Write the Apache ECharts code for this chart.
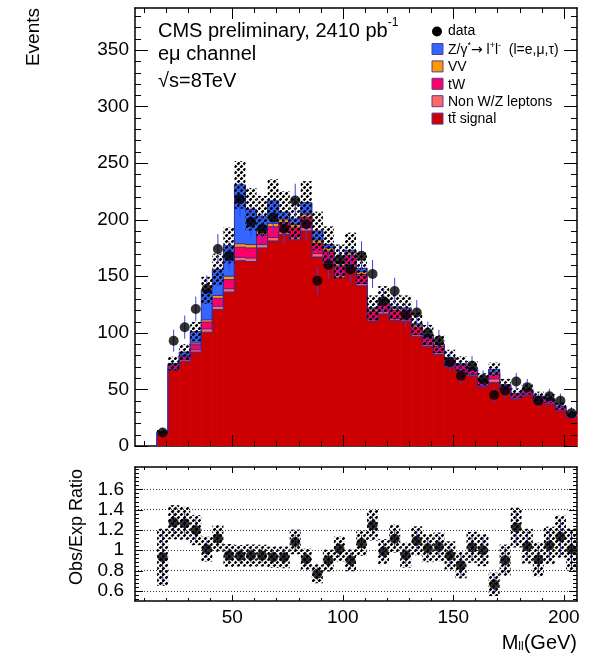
<!DOCTYPE html>
<html>
<head>
<meta charset="utf-8">
<script src="https://cdn.jsdelivr.net/npm/echarts@6/dist/echarts.min.js"></script>
<style>
  html, body { margin: 0; padding: 0; background: #fff; }
  #chart { width: 591px; height: 653px; }
</style>
</head>
<body>
<div id="chart"></div>
<script>
// Dilepton invariant mass, e-mu channel: stacked expectation, data and obs/exp ratio.
const binCenters = [18.5, 23.5, 28.5, 33.5, 38.5, 43.5, 48.5, 53.5, 58.5, 63.5,
  68.5, 73.5, 78.5, 83.5, 88.5, 93.5, 98.5, 103.5, 108.5, 113.5,
  118.5, 123.5, 128.5, 133.5, 138.5, 143.5, 148.5, 153.5, 158.5, 163.5,
  168.5, 173.5, 178.5, 183.5, 188.5, 193.5, 198.5, 203.5];
const BIN_W = 5;

const dataCounts = [12, 93, 105, 121, 139, 174, 168, 218, 198, 192,
  202, 192, 217, 196, 146, 160, 165, 156, 168, 152,
  128, 137, 116, 118, 100, 93, 74, 62, 71, 59,
  45, 49, 57, 52, 40, 44, 40, 29];

const ttSignal = [11.4, 67.6, 74.5, 83.0, 100.5, 120.5, 136.0, 163.7, 163.0, 175.0,
  181.2, 187.0, 182.2, 190.0, 167.0, 160.5, 148.5, 157.5, 141.5, 110.5,
  116.7, 111.0, 110.5, 97.0, 88.0, 81.0, 70.0, 65.7, 62.0, 52.5,
  56.2, 48.3, 41.5, 44.9, 39.1, 37.1, 31.1, 25.4];
const nonWZ = [0.4, 1.2, 1.5, 2.0, 3.0, 3.0, 3.0, 3.0, 3.0, 3.0,
  3.0, 2.5, 2.5, 3.0, 3.0, 2.5, 2.5, 2.5, 2.0, 1.5,
  2.0, 1.5, 1.5, 1.5, 1.5, 1.5, 1.0, 1.0, 1.0, 1.0,
  3.0, 1.0, 0.8, 0.8, 0.8, 0.8, 0.7, 0.6];
const singleTopTW = [0.6, 2.5, 3.0, 4.5, 6.0, 7.0, 8.0, 9.0, 9.0, 9.0,
  9.5, 8.0, 8.0, 9.0, 9.0, 9.0, 8.0, 8.5, 8.0, 7.0,
  7.5, 7.0, 7.0, 6.5, 6.0, 5.5, 5.0, 4.5, 4.5, 4.0,
  4.0, 3.5, 3.0, 3.0, 3.0, 3.0, 2.5, 2.0];
const diboson = [0.2, 0.8, 1.0, 1.5, 2.0, 2.5, 3.0, 3.0, 3.0, 3.0,
  3.0, 3.0, 3.0, 3.0, 3.0, 3.0, 2.5, 2.5, 2.5, 2.0,
  2.0, 2.0, 2.0, 2.0, 1.5, 1.5, 1.5, 1.0, 1.0, 1.0,
  1.5, 1.0, 1.0, 1.0, 0.8, 0.8, 0.7, 0.6];
const drellYan = [0.3, 0.8, 3.0, 10.0, 26.0, 23.0, 27.0, 52.0, 31.0, 13.0,
  20.0, 6.0, 5.0, 10.0, 8.0, 3.0, 1.5, 2.0, 3.0, 1.0,
  1.5, 1.5, 1.0, 1.0, 1.0, 0.5, 0.5, 0.5, 0.5, 0.5,
  3.0, 0.5, 0.3, 0.3, 0.3, 0.3, 0.3, 0.2];
// absolute uncertainty on the total expectation
const expUnc = [1.2, 6.0, 7.0, 8.5, 12.0, 14.0, 16.0, 21.0, 19.0, 18.0,
  19.0, 18.5, 18.0, 19.0, 17.0, 16.0, 15.0, 15.5, 14.0, 11.0,
  11.5, 11.0, 11.0, 10.0, 9.0, 8.0, 7.0, 6.5, 6.2, 5.3,
  6.0, 5.0, 4.2, 4.5, 4.0, 3.8, 3.2, 2.6];

const xTicks = [50, 100, 150, 200];
const yTicks = [0, 50, 100, 150, 200, 250, 300, 350];
const ratioTicks = [0.6, 0.8, 1, 1.2, 1.4, 1.6];

const X_MIN = 6, X_MAX = 206, Y_MAX = 387, R_MIN = 0.5, R_MAX = 1.82;
const FONT = "'Liberation Sans', Arial, Helvetica, sans-serif";
const OUTLINE = '#3a2a9a';
const ERR_BLUE = '#3f3fd8';

function steps(from, to, step) {
  const out = [];
  for (let v = from; v <= to + 1e-9; v += step) out.push(Math.round(v * 1000) / 1000);
  return out;
}
const xMinor = steps(10, 200, 10);
const yMinor = steps(10, 380, 10);
const ratioMinor = steps(0.52, 1.8, 0.04);

// stacked sums, bottom (tt) to top (Drell-Yan)
const layers = [
  { name: 'tt', vals: ttSignal, color: '#cc0000' },
  { name: 'nonWZ', vals: nonWZ, color: '#ff6666' },
  { name: 'tW', vals: singleTopTW, color: '#ff0066' },
  { name: 'VV', vals: diboson, color: '#ff9900' },
  { name: 'DY', vals: drellYan, color: '#3366ff' }
];
let running = binCenters.map(() => 0);
const stackTops = layers.map(l => {
  running = running.map((r, i) => r + l.vals[i]);
  return running.slice();
});
const total = stackTops[stackTops.length - 1];
const ratio = dataCounts.map((n, i) => n / total[i]);
const ratioErr = dataCounts.map((n, i) =>
  ratio[i] * Math.sqrt(1 / n + Math.pow(expUnc[i] / total[i], 2)));

function hatchCanvas() {
  const s = 6;
  const c = document.createElement('canvas');
  c.width = s; c.height = s;
  const g = c.getContext('2d');
  g.strokeStyle = '#000';
  g.lineWidth = 2.4;
  g.beginPath();
  for (let o = -s; o <= s; o += s) { g.moveTo(o, s); g.lineTo(o + s, 0); }
  g.stroke();
  g.globalCompositeOperation = 'destination-out';
  g.lineWidth = 1.3;
  g.beginPath();
  for (let o = -s; o <= s; o += s) { g.moveTo(o, 0); g.lineTo(o + s, s); }
  g.stroke();
  return c;
}
const hatchFill = { image: hatchCanvas(), repeat: 'repeat' };

function axis(grid, pos, min, max, labels, labelOpts) {
  return {
    type: 'value', gridIndex: grid, position: pos, min: min, max: max,
    axisLine: { show: true, onZero: false, lineStyle: { color: '#000', width: 1.5 } },
    axisTick: { show: false },
    axisLabel: labels
      ? Object.assign({ show: true, customValues: labels, color: '#000',
          fontFamily: FONT, fontSize: 19 }, labelOpts || {})
      : { show: false },
    splitLine: { show: false },
    minorTick: { show: false },
    axisPointer: { show: false }
  };
}

const xAxes = [
  axis(0, 'bottom', X_MIN, X_MAX),
  axis(0, 'top', X_MIN, X_MAX),
  axis(1, 'bottom', X_MIN, X_MAX, xTicks, { margin: 7 }),
  axis(1, 'top', X_MIN, X_MAX)
];
const yAxes = [
  axis(0, 'left', 0, Y_MAX, yTicks, { margin: 6 }),
  axis(0, 'right', 0, Y_MAX),
  axis(1, 'left', R_MIN, R_MAX, ratioTicks,
    { margin: 11, formatter: v => (Math.abs(v - 1) < 1e-9 ? '1' : v.toFixed(1)) }),
  axis(1, 'right', R_MIN, R_MAX)
];

// inward tick marks on all four sides of a frame
function tickSeries(xi, yi, dim, values, len, refOther) {
  return {
    type: 'custom', xAxisIndex: xi, yAxisIndex: yi, silent: true, z: 20,
    data: values.map(v => (dim === 'x' ? [v, refOther] : [refOther, v])),
    encode: { x: 0, y: 1 },
    renderItem(params, api) {
      const cs = params.coordSys;
      const p = api.coord([api.value(0), api.value(1)]);
      const st = { stroke: '#000', lineWidth: 1 };
      if (dim === 'x') {
        const x = Math.round(p[0]) + 0.5;
        return { type: 'group', children: [
          { type: 'line', shape: { x1: x, y1: cs.y + cs.height, x2: x, y2: cs.y + cs.height - len }, style: st },
          { type: 'line', shape: { x1: x, y1: cs.y, x2: x, y2: cs.y + len }, style: st }
        ] };
      }
      const y = Math.round(p[1]) + 0.5;
      return { type: 'group', children: [
        { type: 'line', shape: { x1: cs.x, y1: y, x2: cs.x + len, y2: y }, style: st },
        { type: 'line', shape: { x1: cs.x + cs.width, y1: y, x2: cs.x + cs.width - len, y2: y }, style: st }
      ] };
    }
  };
}

function layerSeries(tops, color) {
  return {
    type: 'custom', xAxisIndex: 0, yAxisIndex: 0, silent: true,
    data: binCenters.map((c, i) => [c, tops[i], i ? tops[i - 1] : 0]),
    encode: { x: 0, y: 1 },
    renderItem(params, api) {
      const c = api.value(0), top = api.value(1), prev = api.value(2);
      const tl = api.coord([c - BIN_W / 2, top]);
      const br = api.coord([c + BIN_W / 2, 0]);
      const pv = api.coord([c - BIN_W / 2, prev]);
      return {
        type: 'group',
        children: [
          { type: 'rect', shape: { x: tl[0], y: tl[1], width: br[0] - tl[0] + 0.5, height: br[1] - tl[1] },
            style: { fill: color } },
          { type: 'polyline', shape: { points: [[tl[0], pv[1]], [tl[0], tl[1]], [br[0], tl[1]]] },
            style: { stroke: OUTLINE, lineWidth: 1, fill: null } }
        ]
      };
    }
  };
}

function bandSeries(xi, yi, lows, highs) {
  return {
    type: 'custom', xAxisIndex: xi, yAxisIndex: yi, silent: true,
    data: binCenters.map((c, i) => [c, lows[i], highs[i]]),
    encode: { x: 0, y: [1, 2] },
    renderItem(params, api) {
      const c = api.value(0);
      const tl = api.coord([c - BIN_W / 2, api.value(2)]);
      const br = api.coord([c + BIN_W / 2, api.value(1)]);
      return { type: 'rect', shape: { x: tl[0], y: tl[1], width: br[0] - tl[0], height: br[1] - tl[1] },
        style: { fill: hatchFill } };
    }
  };
}

function errorSeries(xi, yi, lows, highs, extra) {
  return Object.assign({
    type: 'custom', xAxisIndex: xi, yAxisIndex: yi, silent: true,
    data: binCenters.map((c, i) => [c, lows[i], highs[i]]),
    encode: { x: 0, y: [1, 2] },
    renderItem(params, api) {
      const a = api.coord([api.value(0), api.value(1)]);
      const b = api.coord([api.value(0), api.value(2)]);
      return { type: 'line', shape: { x1: a[0], y1: a[1], x2: b[0], y2: b[1] },
        style: { stroke: ERR_BLUE, lineWidth: 1 } };
    }
  }, extra || {});
}

const series = [];
for (let j = layers.length - 1; j >= 0; j--) series.push(layerSeries(stackTops[j], layers[j].color));
series.push(bandSeries(0, 0, total.map((t, i) => t - expUnc[i]), total.map((t, i) => t + expUnc[i])));
series.push(errorSeries(0, 0, dataCounts.map(n => n - Math.sqrt(n)), dataCounts.map(n => n + Math.sqrt(n))));
series.push({
  type: 'scatter', xAxisIndex: 0, yAxisIndex: 0, silent: true,
  symbol: 'circle', symbolSize: 10, itemStyle: { color: '#000' },
  data: binCenters.map((c, i) => [c, dataCounts[i]])
});
// ratio panel
series.push(errorSeries(2, 2, ratio.map((r, i) => r - r / Math.sqrt(dataCounts[i])),
  ratio.map((r, i) => r + r / Math.sqrt(dataCounts[i])), {
  markLine: {
    silent: true, symbol: 'none', label: { show: false },
    lineStyle: { color: '#333', width: 1, type: [1, 2] },
    data: ratioTicks.map(v => ({ yAxis: v }))
  }
}));
series.push(bandSeries(2, 2, ratio.map((r, i) => r - ratioErr[i]), ratio.map((r, i) => r + ratioErr[i])));
series.push({
  type: 'scatter', xAxisIndex: 2, yAxisIndex: 2, silent: true,
  symbol: 'circle', symbolSize: 10, itemStyle: { color: '#000' },
  data: binCenters.map((c, i) => [c, ratio[i]])
});
// frame ticks
series.push(
  tickSeries(0, 0, 'x', xTicks, 11, 0),
  tickSeries(0, 0, 'x', xMinor, 5, 0),
  tickSeries(0, 0, 'y', yTicks, 13, X_MIN),
  tickSeries(0, 0, 'y', yMinor, 6, X_MIN),
  tickSeries(2, 2, 'x', xTicks, 6, R_MIN),
  tickSeries(2, 2, 'x', xMinor, 3, R_MIN),
  tickSeries(2, 2, 'y', ratioTicks, 8, X_MIN),
  tickSeries(2, 2, 'y', ratioMinor, 4, X_MIN)
);

// legend entries and captions
const legendItems = [
  { color: '#3366ff', text: '{n|Z/γ}{s|*}{a|→}{n| l}{s|+}{n|l}{s|-}{n|  (l=e,μ,τ)}' },
  { color: '#ff9900', text: '{n|VV}' },
  { color: '#ff0066', text: '{n|tW}' },
  { color: '#ff6666', text: '{n|Non W/Z leptons}' },
  { color: '#cc0000', text: '{n|tt\u0304 signal}' }
];
const legRich = {
  n: { fontSize: 14, fontFamily: FONT, color: '#000', lineHeight: 16, verticalAlign: 'bottom' },
  a: { fontSize: 14, fontFamily: "'DejaVu Sans', sans-serif", color: '#000', lineHeight: 16, verticalAlign: 'bottom' },
  s: { fontSize: 9, fontFamily: FONT, color: '#000', lineHeight: 16, verticalAlign: 'top' }
};
const graphics = [
  { type: 'circle', shape: { cx: 437, cy: 31.5, r: 5 }, style: { fill: '#000' } },
  { type: 'text', x: 448, y: 31.5, style: { text: 'data', font: '14px ' + FONT, fill: '#000',
      verticalAlign: 'middle', align: 'left' } }
];
legendItems.forEach((it, i) => {
  const cy = 49 + i * 17.4;
  graphics.push({ type: 'rect', shape: { x: 432, y: cy - 5.5, width: 11, height: 11 },
    style: { fill: it.color, stroke: '#5a3a9a', lineWidth: 1 } });
  graphics.push({ type: 'text', x: 448, y: cy, style: { text: it.text, rich: legRich,
    verticalAlign: 'middle', align: 'left' } });
});
const capRich = {
  n: { fontSize: 20, fontFamily: FONT, color: '#000', lineHeight: 24, verticalAlign: 'bottom' },
  s: { fontSize: 12, fontFamily: FONT, color: '#000', lineHeight: 24, verticalAlign: 'top' },
  sub: { fontSize: 12, fontFamily: FONT, color: '#000', lineHeight: 26, verticalAlign: 'bottom' }
};
graphics.push(
  { type: 'text', x: 158, y: 29, style: { text: '{n|CMS preliminary, 2410 pb}{s|-1}', rich: capRich,
      verticalAlign: 'middle', align: 'left' } },
  { type: 'text', x: 158, y: 54, style: { text: 'eμ channel', font: '20px ' + FONT, fill: '#000',
      verticalAlign: 'middle', align: 'left' } },
  { type: 'text', x: 158, y: 81, style: { text: '√s=8TeV', font: '20px ' + FONT, fill: '#000',
      verticalAlign: 'middle', align: 'left' } },
  { type: 'text', x: 34, y: 8, rotation: Math.PI / 2, style: { text: 'Events', font: '19px ' + FONT,
      fill: '#000', align: 'right', verticalAlign: 'middle' } },
  { type: 'text', x: 77, y: 469, rotation: Math.PI / 2, style: { text: 'Obs/Exp Ratio', font: '18px ' + FONT,
      fill: '#000', align: 'right', verticalAlign: 'middle' } },
  { type: 'text', x: 577, y: 640, style: { text: '{n|M}{sub|ll}{n|(GeV)}', rich: capRich,
      align: 'right', verticalAlign: 'middle' } }
);

const chart = echarts.init(document.getElementById('chart'), null, { renderer: 'canvas' });
chart.setOption({
  animation: false,
  backgroundColor: '#fff',
  grid: [
    { left: 135, top: 8, width: 442, height: 438 },
    { left: 135, top: 467, width: 442, height: 134 }
  ],
  xAxis: xAxes,
  yAxis: yAxes,
  series: series,
  graphic: graphics
});
</script>
</body>
</html>
